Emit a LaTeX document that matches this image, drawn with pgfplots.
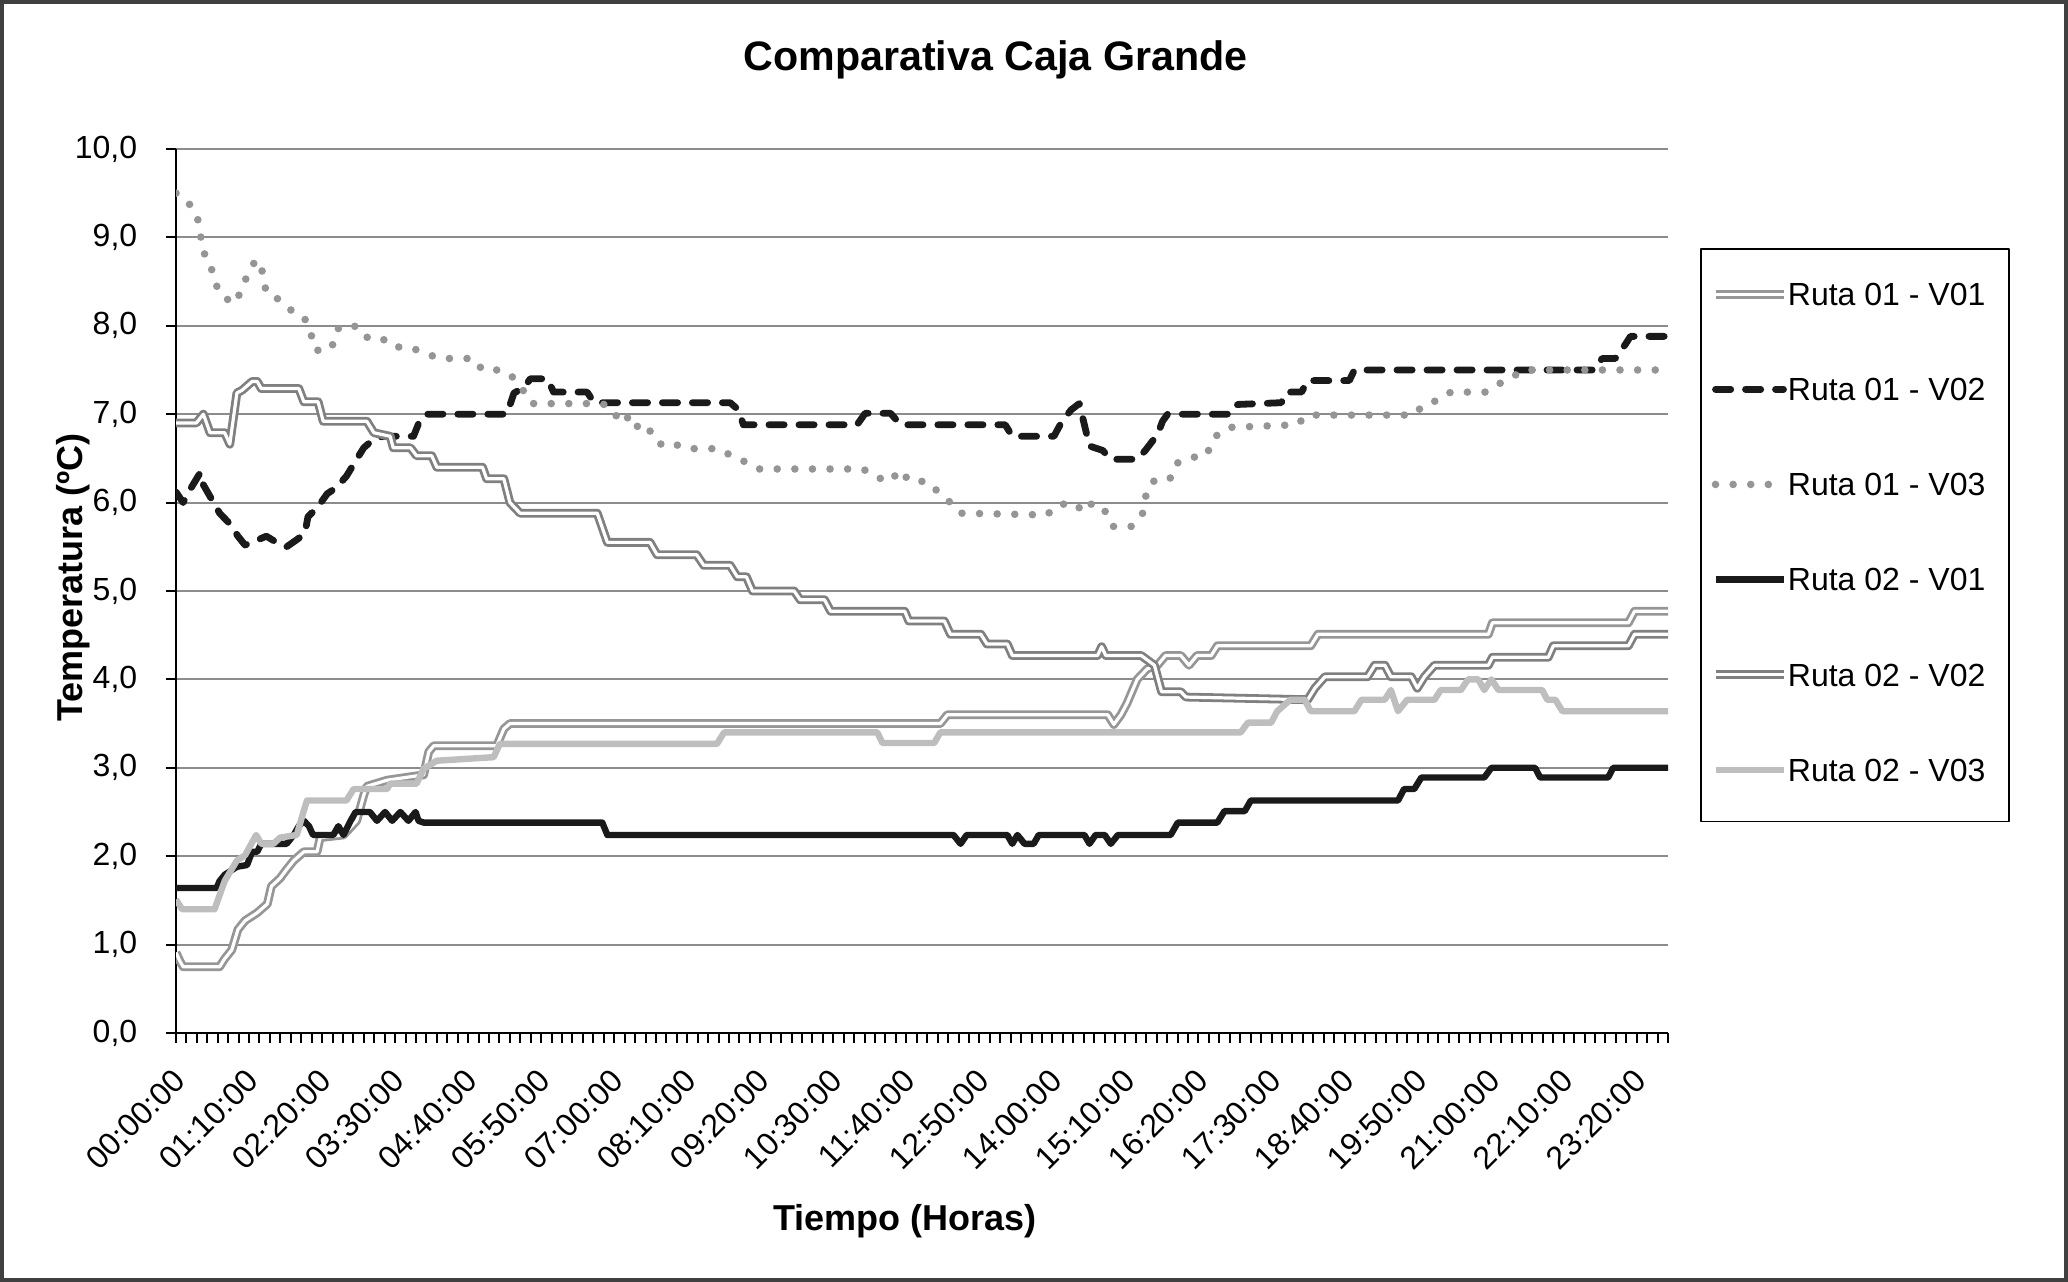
\documentclass[border=0pt]{standalone}
\usepackage{fontspec}
\setmainfont{Liberation Sans}
\usepackage{pgfplots}
\pgfplotsset{compat=1.18}
\definecolor{rA}{HTML}{969696}
\definecolor{rB}{HTML}{1A1A1A}
\definecolor{rC}{HTML}{959595}
\definecolor{rE}{HTML}{808080}
\definecolor{rF}{HTML}{BEBEBE}
\definecolor{gridc}{HTML}{8C8C8C}
\begin{document}
\begin{tikzpicture}
\useasboundingbox (0,0) rectangle (517pt,320.5pt);
\draw[line width=1pt, black!75] (0.5pt,0.5pt) rectangle (516.5pt,320pt);
\begin{axis}[
  at={(44pt,62.25pt)}, anchor=south west,
  scale only axis, width=373pt, height=221pt,
  xmin=0, xmax=147, ymin=0, ymax=10,
  axis x line*=bottom, axis y line*=left,
  axis line style={black, line width=0.5pt},
  ymajorgrids, grid style={gridc, line width=0.5pt},
  ytick={0,1,...,10},
  yticklabels={{0,0},{1,0},{2,0},{3,0},{4,0},{5,0},{6,0},{7,0},{8,0},{9,0},{10,0}},
  xtick={0,7.1958,...,144},
  minor xtick={0,1.02797,...,147.05},
  xticklabels={00:00:00,01:10:00,02:20:00,03:30:00,04:40:00,05:50:00,07:00:00,08:10:00,09:20:00,10:30:00,11:40:00,12:50:00,14:00:00,15:10:00,16:20:00,17:30:00,18:40:00,19:50:00,21:00:00,22:10:00,23:20:00},
  tick align=outside,
  major tick length=2.5pt, minor tick length=2.5pt,
  tick style={black, line width=0.5pt},
  tick label style={font=\fontsize{8}{9.6}\selectfont, inner sep=0pt},
  xticklabel style={xshift=1pt, rotate=45, anchor=east},
  xticklabel shift=8pt,
  yticklabel shift=7pt,
  title={\bfseries Comparativa Caja Grande},
  title style={at={(axis description cs:0.5493,1.0615)}, anchor=base, font=\fontsize{10.3}{12}\selectfont},
  xlabel={\bfseries Tiempo (Horas)},
  xlabel style={at={(axis description cs:0.4886,-0.224)}, anchor=base, font=\fontsize{9}{11}\selectfont},
  ylabel={\bfseries Temperatura (ºC)},
  ylabel style={at={(axis description cs:-0.063,0.515)}, rotate=0, anchor=base, font=\fontsize{9}{11}\selectfont},
  legend style={at={(axis description cs:1.0214,0.888)}, anchor=north west,
    draw=black, line width=0.4pt, fill=white,
    font=\fontsize{8}{9.6}\selectfont,
    nodes={inner sep=0pt},
    inner xsep=2.6pt, inner ysep=8.6pt, row sep=16.7pt,
    /tikz/every even column/.append style={column sep=1.25pt}},
  legend cell align=left,
  legend image code/.code={\draw[#1] (0pt,0.8pt) -- (17pt,0.8pt);},
  line join=round,
]
% Ruta 01 - V01
\addplot[draw=rA, line width=0.7pt, double=white, double distance=0.8pt] coordinates {
(0,0.91) (0.4,0.81) (0.7,0.75) (4.3,0.75) (4.8,0.84) (5.5,0.94) (6.1,1.17) (6.8,1.27) (8,1.36) (9,1.46) (9.4,1.66) (10.25,1.75) (10.9,1.85) (11.6,1.95) (12.6,2.05) (13.9,2.05) (14.2,2.21) (16.5,2.24) (17.8,2.4) (18.5,2.69) (18.8,2.79) (20.8,2.86) (24.4,2.92) (24.9,3.18) (25.4,3.25) (31.6,3.25) (32.3,3.44) (32.9,3.5) (75.3,3.5) (76,3.6) (91.8,3.6) (92.4,3.49) (93.1,3.6) (93.7,3.73) (94.7,4.0) (95.7,4.12) (96.7,4.16) (97.5,4.27) (99,4.27) (99.8,4.16) (100.6,4.27) (102,4.27) (102.6,4.38) (111.8,4.38) (112.5,4.51) (129.3,4.51) (129.7,4.64) (143.1,4.64) (143.7,4.77) (147,4.77)};
\addlegendentry{Ruta 01 - V01\kern3.3pt}
% Ruta 01 - V02
\addplot[draw=rB, line width=1.7pt, line cap=round, dash pattern=on 3.8pt off 3.7pt] coordinates {
(0,6.12) (0.7,6.0) (1.4,6.15) (2.4,6.34) (2.7,6.2) (3.35,6.07) (4.3,5.88) (5.3,5.76) (6.1,5.62) (6.8,5.52) (8.1,5.58) (8.9,5.62) (9.9,5.55) (10.9,5.5) (11.9,5.58) (12.7,5.65) (13,5.84) (13.9,5.94) (14.9,6.1) (15.8,6.17) (16.8,6.3) (17.8,6.49) (18.5,6.62) (19.5,6.72) (20.4,6.75) (23.4,6.75) (24.1,6.95) (24.7,7.0) (32.6,7.0) (33.3,7.24) (34.3,7.3) (34.9,7.4) (36.6,7.4) (37.2,7.25) (40.5,7.25) (41.2,7.13) (54.6,7.13) (55.4,7.05) (55.9,6.88) (67.1,6.88) (67.9,7.01) (70.4,7.01) (71.4,6.88) (81.7,6.88) (82.4,6.75) (86.5,6.75) (87.3,6.92) (88.2,7.05) (89,7.12) (89.5,6.88) (90,6.64) (91.3,6.59) (92.1,6.49) (94.7,6.49) (95.5,6.59) (96.7,6.77) (97.2,6.92) (97.7,7.0) (103.9,7.0) (104.6,7.11) (108.9,7.13) (109.4,7.25) (110.9,7.25) (111.5,7.38) (115.6,7.38) (116.1,7.5) (139.8,7.5) (140.5,7.63) (141.8,7.63) (142.8,7.79) (143.3,7.88) (147,7.88)};
\addlegendentry{Ruta 01 - V02\kern3.3pt}
% Ruta 01 - V03
\addplot[draw=rC, line width=1.9pt, line cap=round, dash pattern=on 0pt off 4.4pt] coordinates {
(0,9.5) (1.3,9.38) (2.1,9.23) (2.4,9.05) (2.6,8.85) (3.4,8.71) (3.7,8.52) (4.5,8.34) (5.75,8.25) (6.5,8.41) (7.1,8.6) (7.9,8.75) (8.7,8.57) (8.84,8.38) (10.1,8.3) (11.3,8.18) (12.6,8.1) (13.3,7.93) (13.5,7.75) (14.4,7.7) (15.6,7.8) (16,7.97) (17.5,8.01) (18.5,7.87) (20.2,7.87) (21.3,7.76) (23,7.76) (24.5,7.69) (26,7.63) (29.3,7.63) (30.2,7.5) (32,7.5) (33.3,7.41) (34.2,7.27) (35,7.12) (42,7.12) (43.1,7.05) (43.7,6.9) (44.9,6.99) (45.6,6.83) (46.1,6.87) (47.3,6.75) (47.7,6.66) (48.6,6.69) (50.2,6.61) (53.5,6.61) (54.7,6.53) (56.1,6.46) (57.4,6.38) (67.7,6.38) (68.9,6.29) (70.4,6.24) (71.3,6.37) (72.3,6.24) (74,6.24) (75.1,6.12) (76.3,6.0) (77.3,5.88) (85.8,5.86) (86.8,5.97) (88.4,6.0) (89.5,5.89) (90.3,6.0) (91.5,5.91) (92.3,5.73) (94.1,5.73) (95.2,5.86) (95.5,6.06) (96.2,6.24) (97.9,6.26) (98.5,6.44) (100,6.51) (101.5,6.53) (102.3,6.74) (103.7,6.85) (110.4,6.88) (111.5,6.99) (121.9,6.99) (123,7.11) (124.4,7.16) (125.6,7.25) (129,7.25) (130.3,7.34) (131.6,7.42) (132.9,7.5) (147,7.5)};
\addlegendentry{Ruta 01 - V03\kern3.3pt}
% Ruta 02 - V01
\addplot[draw=rB, line width=1.6pt] coordinates {
(0,1.64) (4,1.64) (4.3,1.72) (4.8,1.79) (6,1.88) (7,1.9) (7.5,2.05) (8,2.05) (8.4,2.14) (10.9,2.14) (11.6,2.24) (12.1,2.34) (12.6,2.4) (13.1,2.34) (13.5,2.24) (15.5,2.24) (16,2.34) (16.5,2.24) (17.2,2.4) (17.7,2.5) (19.1,2.5) (19.8,2.4) (20.6,2.5) (21.3,2.4) (22.1,2.5) (22.9,2.4) (23.6,2.5) (23.9,2.4) (24.4,2.38) (42,2.38) (42.5,2.24) (76.6,2.24) (77.3,2.14) (77.9,2.24) (81.9,2.24) (82.4,2.14) (82.9,2.24) (83.6,2.14) (84.5,2.14) (85,2.24) (89.5,2.24) (90,2.14) (90.6,2.24) (91.5,2.24) (92.1,2.14) (92.8,2.24) (98,2.24) (98.7,2.38) (102.6,2.38) (103.3,2.51) (105.3,2.51) (105.9,2.63) (120.4,2.63) (121,2.76) (122,2.76) (122.7,2.89) (128.9,2.89) (129.6,3.0) (133.9,3.0) (134.4,2.89) (141.1,2.89) (141.6,3.0) (147,3.0)};
\addlegendentry{Ruta 02 - V01\kern3.3pt}
% Ruta 02 - V02
\addplot[draw=rE, line width=0.7pt, double=white, double distance=0.8pt] coordinates {
(0,6.9) (2,6.9) (2.7,7.0) (3.35,6.79) (4.8,6.79) (5.3,6.66) (6,7.24) (6.5,7.27) (7.5,7.37) (8,7.37) (8.4,7.29) (12.1,7.29) (12.6,7.14) (14,7.14) (14.5,6.92) (18.8,6.92) (19.5,6.79) (21.1,6.75) (21.4,6.62) (23.1,6.62) (23.7,6.53) (25.2,6.53) (25.7,6.4) (30.2,6.4) (30.6,6.27) (32.3,6.27) (32.9,6.0) (33.9,5.88) (41.5,5.88) (42.5,5.55) (46.7,5.55) (47.4,5.41) (51.3,5.41) (52,5.29) (54.6,5.29) (55.3,5.16) (56.2,5.16) (56.8,5.0) (60.9,5.0) (61.5,4.9) (63.9,4.9) (64.5,4.77) (71.8,4.77) (72.2,4.66) (75.7,4.66) (76.3,4.51) (79.3,4.51) (79.9,4.4) (81.9,4.4) (82.4,4.27) (90.8,4.27) (91.2,4.37) (91.6,4.27) (95.1,4.27) (96.4,4.16) (97.1,3.86) (99,3.86) (99.5,3.8) (111.5,3.77) (112.2,3.9) (113.2,4.03) (117.4,4.03) (118.1,4.16) (119.1,4.16) (119.7,4.03) (121.7,4.03) (122.3,3.9) (123,4.03) (124,4.16) (129.3,4.16) (129.7,4.25) (135.2,4.25) (135.7,4.38) (143.1,4.38) (143.7,4.51) (147,4.51)};
\addlegendentry{Ruta 02 - V02\kern3.3pt}
% Ruta 02 - V03
\addplot[draw=rF, line width=1.6pt] coordinates {
(0,1.51) (0.6,1.4) (3.8,1.4) (4.3,1.56) (4.8,1.72) (6,1.95) (6.8,2.01) (7.9,2.24) (8.4,2.14) (9.6,2.14) (10.25,2.21) (11.9,2.24) (12.4,2.44) (12.9,2.63) (16.8,2.63) (17.5,2.76) (20.8,2.76) (21.1,2.82) (23.7,2.82) (24.4,2.99) (25.7,3.08) (31.3,3.12) (31.9,3.27) (53.3,3.27) (54,3.4) (69.1,3.4) (69.6,3.28) (74.7,3.28) (75.3,3.4) (104.9,3.4) (105.6,3.51) (107.9,3.51) (108.5,3.64) (109.8,3.77) (111.2,3.77) (111.8,3.64) (116.1,3.64) (116.8,3.77) (119.1,3.77) (119.7,3.88) (120.4,3.64) (121.3,3.77) (124,3.77) (124.6,3.88) (126.6,3.88) (127.3,4.0) (128.3,4.0) (128.9,3.88) (129.6,4.0) (130.3,3.88) (134.6,3.88) (135.1,3.77) (135.9,3.77) (136.6,3.64) (147,3.64)};
\addlegendentry{Ruta 02 - V03\kern3.3pt}
\end{axis}
\end{tikzpicture}
\end{document}
